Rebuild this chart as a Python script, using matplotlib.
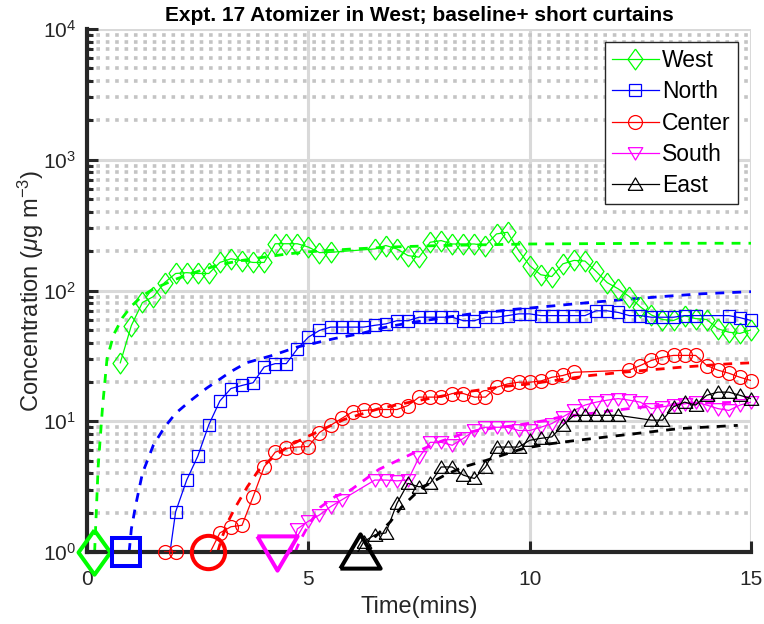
import numpy as np
import matplotlib
matplotlib.use('Agg')
import matplotlib.pyplot as plt
from matplotlib.lines import Line2D
from matplotlib.ticker import LogLocator, NullFormatter

plt.rcParams['font.family'] = ['Liberation Sans', 'DejaVu Sans']
plt.rcParams['mathtext.fontset'] = 'custom'
plt.rcParams['mathtext.rm'] = 'Liberation Sans'
plt.rcParams['mathtext.it'] = 'Liberation Sans:italic'

# measured concentrations (ug/m3) vs time (mins) at each sampler
t_west = [0.75, 1.0, 1.25, 1.5, 1.75, 2.0, 2.25, 2.5, 2.75, 3.0, 3.25, 3.5, 3.75, 4.0,
          4.25, 4.5, 4.75, 5.0, 5.25, 5.5, 6.5, 6.75, 7.0, 7.25, 7.5, 7.75, 8.0, 8.25,
          8.5, 8.75, 9.0, 9.25, 9.5, 9.75, 10.0, 10.25, 10.5, 10.75, 11.0, 11.25, 11.5,
          11.75, 12.0, 12.25, 12.5, 12.75, 13.0, 13.25, 13.5, 13.75, 14.0, 14.25, 14.5,
          14.75, 15.0]
c_west = [28, 54, 81, 90, 115, 135, 137, 135, 135, 164, 175, 169, 164, 164,
          228, 228, 228, 215, 195, 196, 208, 221, 208, 185, 180, 234, 241, 227,
          227, 227, 221, 271, 279, 202, 155, 132, 128, 160, 170, 168, 140,
          115, 103, 90, 75, 65, 60, 59, 64, 61, 60, 51, 48,
          47, 50]

t_north = [1.75, 2.0, 2.25, 2.5, 2.75, 3.0, 3.25, 3.5, 3.75, 4.0, 4.25, 4.5, 4.75, 5.0,
           5.25, 5.5, 5.75, 6.0, 6.25, 6.5, 6.75, 7.0, 7.25, 7.5, 7.75, 8.0, 8.25, 8.5,
           8.75, 9.0, 9.25, 9.5, 9.75, 10.0, 10.25, 10.5, 10.75, 11.0, 11.25, 11.5, 11.75,
           12.0, 12.25, 12.5, 12.75, 13.0, 13.25, 13.5, 13.75, 14.5, 14.75, 15.0]
c_north = [0.5, 2.03, 3.55, 5.4, 9.4, 14.3, 17.8, 18.8, 19.7, 26, 27.6, 27.6, 35.8, 44,
           49.5, 52.5, 52.5, 52.5, 52.5, 54.2, 55.6, 58.8, 58.8, 62.5, 62.5, 62.5, 62.5, 58.8,
           58.8, 62.5, 62.5, 64.3, 66.3, 66.3, 64.3, 64.3, 64.3, 64.3, 64.3, 70, 70,
           68, 64.3, 64.3, 62.5, 62.5, 62.5, 64.3, 64.3, 64.3, 62, 59]

t_center = [1.75, 2.0, 2.25, 2.5, 2.75, 3.0, 3.25, 3.5, 3.75, 4.0, 4.25, 4.5, 4.75, 5.0,
            5.25, 5.5, 5.75, 6.0, 6.25, 6.5, 6.75, 7.0, 7.25, 7.5, 7.75, 8.0, 8.25, 8.5,
            8.75, 9.0, 9.25, 9.5, 9.75, 10.0, 10.25, 10.5, 10.75, 11.0, 12.25, 12.5,
            12.75, 13.0, 13.25, 13.5, 13.75, 14.0, 14.25, 14.5, 14.75, 15.0]
c_center = [1.0, 1.0, 0.5, 0.5, 0.95, 1.4, 1.56, 1.6, 2.64, 4.47, 5.8, 6.2, 6.35, 6.4,
            8.2, 9.3, 10.5, 11.8, 12.1, 12.3, 12.3, 12.3, 13.2, 15.3, 15.3, 15.3, 16.3, 16.3,
            15.3, 15.3, 18.2, 19.3, 19.9, 19.9, 20.3, 21.7, 22.4, 23.7, 24.6, 26.7,
            29.2, 30.9, 31.9, 31.9, 31.9, 26.7, 24.6, 23.3, 21.7, 20.5]

t_south = [4.5, 4.75, 5.0, 5.25, 5.5, 5.75, 6.5, 6.75, 7.0, 7.25, 7.5, 7.75, 8.0, 8.25,
           8.5, 8.75, 9.0, 9.25, 9.5, 9.75, 10.0, 10.25, 10.5, 10.75, 11.0, 11.25, 11.5,
           11.75, 12.0, 12.25, 12.5, 12.75, 13.0, 13.25, 13.5, 13.75, 14.0, 14.25, 14.5,
           14.75, 15.0]
c_south = [0.7, 1.5, 1.72, 1.92, 2.22, 2.5, 3.55, 3.55, 3.5, 3.55, 5.3, 6.9, 6.9, 6.55,
           7.4, 8.5, 9.0, 9.0, 9.0, 8.5, 8.5, 9.0, 9.6, 10.8, 12.1, 13.3, 14.0,
           14.5, 14.9, 14.5, 14.0, 12.5, 12.9, 13.3, 13.6, 14.0, 13.3, 12.5, 12.1,
           13.3, 14.0]

t_east = [6.0, 6.25, 6.5, 6.75, 7.0, 7.25, 7.5, 7.75, 8.0, 8.25, 8.5, 8.75, 9.0, 9.25,
          9.5, 9.75, 10.0, 10.25, 10.5, 10.75, 11.0, 11.25, 11.5, 11.75, 12.0, 12.75,
          13.0, 13.25, 13.5, 13.75, 14.0, 14.25, 14.5, 14.75, 15.0]
c_east = [0.85, 1.2, 1.35, 1.4, 2.35, 3.35, 3.15, 3.35, 4.47, 4.47, 3.87, 3.65, 4.47, 6.35,
          6.35, 6.35, 7.15, 7.4, 7.6, 9.3, 11.1, 11.1, 11.1, 11.1, 11.1, 10.2,
          10.2, 12.9, 14.0, 13.3, 15.8, 16.7, 16.7, 15.8, 14.9]

# fitted rise curves (dashed)
tf_west = [0.17, 0.25, 0.35, 0.45, 0.6, 0.8, 1.0, 1.25, 1.5, 1.75, 2.0, 2.5, 3.0, 3.5,
           4.0, 4.5, 5.0, 5.5, 6.0, 7.0, 8.0, 9.0, 10.0, 11.0, 12.0, 13.0, 15.0]
cf_west = [1.0, 4.5, 13, 30, 46, 62, 76, 91, 103, 112, 122, 140, 158, 170,
           180, 190, 198, 203, 208, 216, 221, 224, 227, 228, 229, 230, 230]

tf_north = [0.95, 1.0, 1.1, 1.25, 1.5, 1.75, 2.0, 2.35, 2.7, 3.0, 3.25, 3.6, 4.2, 4.75,
            5.2, 5.6, 6.2, 6.7, 7.2, 8.2, 8.7, 9.8, 10.2, 11.0, 11.9, 13.0, 13.9, 15.0]
cf_north = [1.0, 1.5, 2.3, 4.0, 6.6, 9.0, 11.5, 14.5, 17.9, 21, 24, 28, 32, 37,
            40, 43, 47, 52, 56, 63, 66.5, 72.5, 74.5, 79, 84, 90, 94.5, 98]

tf_center = [2.95, 3.05, 3.2, 3.35, 3.62, 3.87, 4.2, 4.6, 5.0, 5.27, 5.8, 6.6, 7.3, 8.36,
             9.33, 10.1, 11.37, 12.1, 13.47, 14.5, 15.0]
cf_center = [1.0, 1.3, 1.75, 2.2, 3.15, 4.2, 5.3, 6.6, 7.7, 8.5, 10.3, 12.5, 14.0, 16.4,
             18.3, 19.5, 22.4, 23.7, 26, 27.5, 28]

tf_south = [4.7, 4.8, 5.0, 5.27, 5.6, 5.95, 6.6, 7.37, 7.98, 8.58, 9.1, 9.7, 10.4, 10.7,
            11.5, 11.9, 12.5, 13.4, 14.0, 14.75]
cf_south = [1.0, 1.2, 1.6, 2.2, 2.65, 2.97, 4.3, 5.7, 7.0, 8.2, 8.8, 9.3, 10.2, 10.8,
            11.6, 12.1, 12.8, 13.6, 13.8, 14.0]

tf_east = [6.3, 6.5, 6.85, 7.1, 7.4, 7.6, 8.1, 8.5, 9.0, 9.86, 10.5, 11.0, 11.9, 13.0,
           13.4, 14.7]
cf_east = [1.0, 1.3, 1.7, 2.2, 2.75, 3.15, 3.9, 4.47, 5.0, 6.2, 6.75, 7.1, 7.7, 8.5,
           8.8, 9.3]

# arrival times marked on the time axis
t_arrival = [0.15, 0.87, 2.73, 4.29, 6.17]

names = ['West', 'North', 'Center', 'South', 'East']
colors = [(0, 1, 0), (0, 0, 1), (1, 0, 0), (1, 0, 1), (0, 0, 0)]

diamond = [(0, 1), (0.72, 0), (0, -1), (-0.72, 0), (0, 1)]
tri_up = [(-1, -0.8), (1, -0.8), (0, 0.9), (-1, -0.8)]
tri_dn = [(-1, 0.8), (1, 0.8), (0, -0.9), (-1, 0.8)]
markers = [diamond, 's', 'o', tri_dn, tri_up]
msizes = [15, 8.5, 10, 10.5, 10.5]
big_sizes = [32, 19.5, 24, 29, 29]

series = [(t_west, c_west), (t_north, c_north), (t_center, c_center),
          (t_south, c_south), (t_east, c_east)]
fits = [(tf_west, cf_west), (tf_north, cf_north), (tf_center, cf_center),
        (tf_south, cf_south), (tf_east, cf_east)]

fig = plt.figure(figsize=(7.64, 6.24), dpi=100)
ax = fig.add_axes([0.114, 0.1154, 0.869, 0.838])

handles = []
for (t, c), (tf, cf), col, mk, ms, bs, ta, nm in zip(series, fits, colors, markers,
                                                      msizes, big_sizes, t_arrival, names):
    t = np.array(t)
    c = np.array(c)
    ax.plot(t, c, color=col, lw=0.9, zorder=3)
    vis = c >= 1
    ax.plot(t[vis], c[vis], ls='none', marker=mk, ms=ms, mfc='none', mec=col,
            mew=0.9, clip_on=False, zorder=3)
    ax.plot(tf, cf, color=col, lw=2.0, ls=(0, (3.2, 2.9)), zorder=2.5)
    ax.plot([ta], [1], ls='none', marker=mk, ms=bs, mfc='none', mec=col, mew=2.9,
            clip_on=False, zorder=5)
    handles.append(Line2D([], [], color=col, lw=0.9, marker=mk, ms=ms, mfc='none',
                          mec=col, mew=0.9, label=nm))

ax.set_yscale('log')
ax.set_xlim(0, 15)
ax.set_ylim(1, 1e4)
ax.set_xticks([0, 5, 10, 15])
ax.yaxis.set_major_locator(LogLocator(base=10, numticks=10))
ax.yaxis.set_minor_locator(LogLocator(base=10, subs=np.arange(2, 10), numticks=10))
ax.yaxis.set_minor_formatter(NullFormatter())

ax.set_axisbelow(True)
ax.grid(True, which='major', color='#d9d9d9', lw=2.2, ls='-')
ax.grid(True, which='minor', axis='y', color='#c4c4c4', lw=2.6, ls=(0, (1, 1.6)))

for s in ['top', 'right']:
    ax.spines[s].set_visible(False)
for s in ['left', 'bottom']:
    ax.spines[s].set_linewidth(3)
    ax.spines[s].set_color('#262626')

ax.tick_params(which='major', direction='in', length=8, width=2.2, color='#262626',
               labelsize=15, labelcolor='#262626')
ax.tick_params(which='minor', direction='in', length=4.5, width=2.2, color='#262626')
ax.tick_params(axis='x', pad=13)
ax.tick_params(axis='y', pad=8)

ax.set_xlabel('Time(mins)', fontsize=17, color='#262626', labelpad=5)
ax.set_ylabel('Concentration ($\\mu$g m$^{-3}$)', fontsize=17, color='#262626',
              labelpad=-2)
ax.set_title('Expt. 17 Atomizer in West; baseline+ short curtains', fontsize=15,
             fontweight='bold', pad=6)

leg = ax.legend(handles=handles, loc='upper right', bbox_to_anchor=(0.98, 0.975),
                borderaxespad=0, fontsize=16.5, handlelength=2.05, handletextpad=0.15,
                borderpad=0.3, labelspacing=0.36, fancybox=False, framealpha=1)
leg.get_frame().set_edgecolor('#262626')
leg.get_frame().set_linewidth(1.0)

fig.savefig('out.png', dpi=100)
